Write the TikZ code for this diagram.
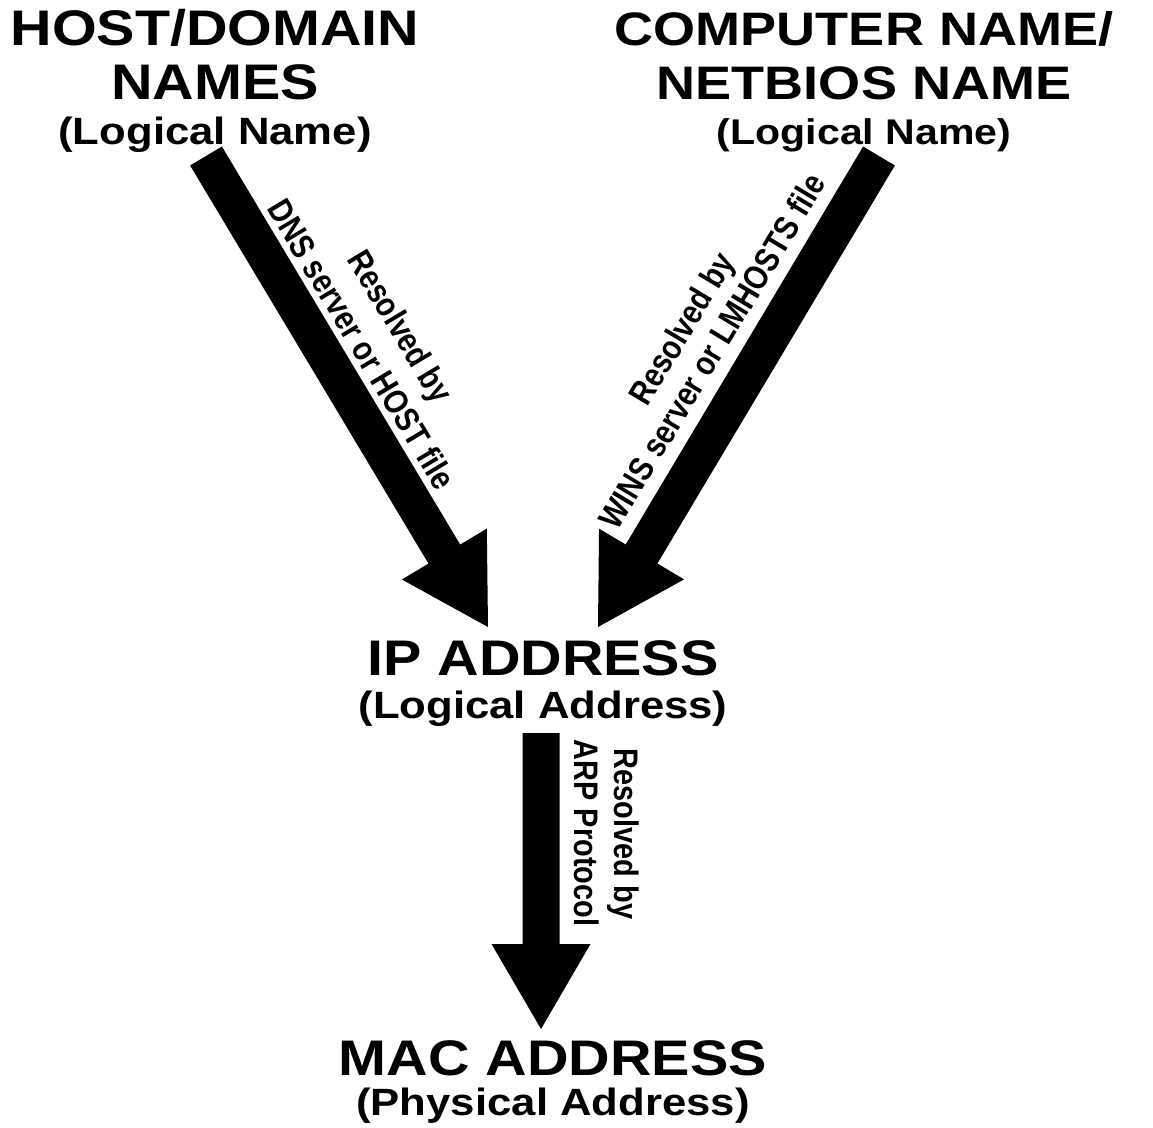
\documentclass[tikz,border=0pt]{standalone}
\usepackage{fontspec}
\newfontfamily\heavyfont{Liberation Sans Bold}[FakeStretch=1.15]
\newfontfamily\labelfont{Liberation Sans Bold}[FakeStretch=0.85]
\usetikzlibrary{calc}
\newcommand\fatarrow[2]{%
  \coordinate (#2base) at ($(#2)!85pt!(#1)$);
  \fill ($(#1)!18.5pt!90:(#2)$) -- ($(#2base)!18.5pt!90:(#2)$) -- ($(#2base)!49.5pt!90:(#2)$)
     -- (#2) -- ($(#2base)!49.5pt!-90:(#2)$) -- ($(#2base)!18.5pt!-90:(#2)$)
     -- ($(#1)!18.5pt!-90:(#2)$) -- cycle;}
\begin{document}
\begin{tikzpicture}[x=1pt,y=-1pt,
  big/.style={anchor=base,inner sep=0pt,font=\heavyfont\fontsize{50}{54}\selectfont},
  small/.style={anchor=base,inner sep=0pt,font=\heavyfont\fontsize{38}{42}\selectfont},
  bigr/.style={anchor=base,inner sep=0pt,font=\heavyfont\fontsize{47}{51}\selectfont},
  smallr/.style={anchor=base,inner sep=0pt,font=\heavyfont\fontsize{35.7}{40}\selectfont},
  lbl/.style={inner sep=0pt,font=\labelfont\fontsize{34}{38}\selectfont}]
\useasboundingbox (0,0) rectangle (1153,1127);
% titles
\node[big] (hd1) at (215,45) {HOST/DOMAIN};
\node[big] (hd2) at (215,99) {NAMES};
\node[small] (hd3) at (215,144) {(Logical Name)};
\node[bigr] (nb1) at (864,45) {COMPUTER NAME/};
\node[bigr] (nb2) at (864,99) {NETBIOS NAME};
\node[smallr] (nb3) at (864,144) {(Logical Name)};
\node[big] (ip1) at (543,675) {IP ADDRESS};
\node[small] (ip2) at (543,718) {(Logical Address)};
\node[big] (mac1) at (553,1075) {MAC ADDRESS};
\node[small] (mac2) at (553,1115) {(Physical Address)};
% arrows
\coordinate (s1) at (206,156); \coordinate (t1) at (488,627);
\coordinate (s2) at (879,156); \coordinate (t2) at (598,627);
\coordinate (s3) at (541,733); \coordinate (t3) at (541,1029);
\fatarrow{s1}{t1}
\fatarrow{s2}{t2}
\fatarrow{s3}{t3}
% labels
\node[lbl,rotate=-59] (l1a) at (398,328) {Resolved by};
\node[lbl,rotate=-59] (l1b) at (362,344) {DNS server or HOST file};
\node[lbl,rotate=59] (l2a) at (684,330) {Resolved by};
\node[lbl,rotate=59] (l2b) at (712,351) {WINS server or LMHOSTS file};
\node[lbl,rotate=-90] (l3a) at (623,834) {Resolved by};
\node[lbl,rotate=-90] (l3b) at (587,833) {ARP Protocol};
\end{tikzpicture}
\end{document}
